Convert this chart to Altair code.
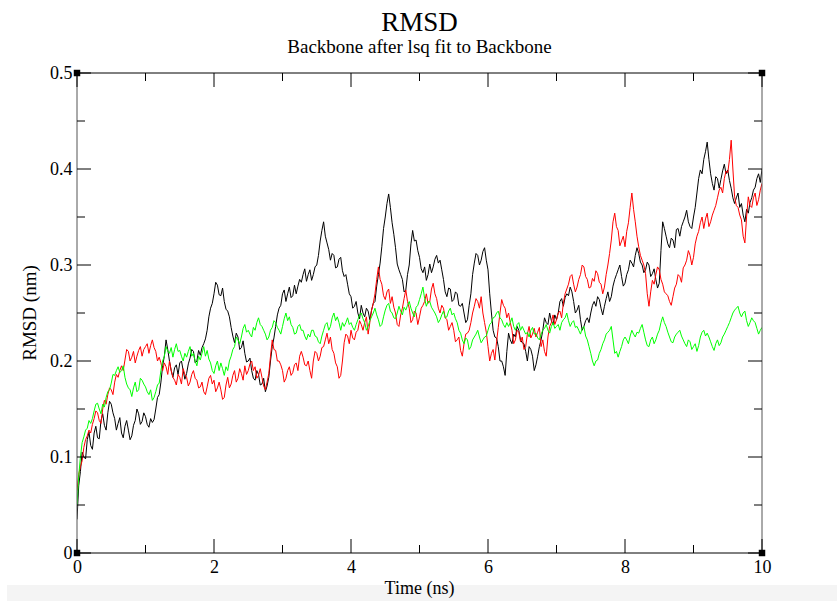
import altair as alt
import pandas as pd

# ---- data ----
# samples at every 0.05 ns, plus the in-between samples (0.025, 0.075, ...) read separately
rmsd_black = [
    0.035, 0.085, 0.10, 0.118, 0.112, 0.125, 0.12, 0.138, 0.133, 0.146, 0.155, 0.14, 0.135, 0.125, 0.132, 0.128, 0.122, 0.138, 0.145, 0.137,
    0.142, 0.131, 0.136, 0.15, 0.165, 0.195, 0.222, 0.2, 0.183, 0.196, 0.198, 0.19, 0.187, 0.203, 0.21, 0.2, 0.206, 0.218, 0.232, 0.255,
    0.27, 0.279, 0.268, 0.262, 0.252, 0.235, 0.219, 0.225, 0.214, 0.208, 0.2, 0.19, 0.18, 0.186, 0.176, 0.168, 0.183, 0.215, 0.236, 0.255,
    0.27, 0.262, 0.277, 0.268, 0.27, 0.285, 0.29, 0.283, 0.295, 0.29, 0.3, 0.325, 0.345, 0.323, 0.305, 0.31, 0.298, 0.308, 0.288, 0.28,
    0.267, 0.257, 0.25, 0.258, 0.246, 0.252, 0.253, 0.262, 0.29, 0.319, 0.35, 0.374, 0.344, 0.318, 0.295, 0.285, 0.274, 0.3, 0.336, 0.326,
    0.308, 0.292, 0.284, 0.301, 0.298, 0.31, 0.305, 0.285, 0.267, 0.275, 0.264, 0.27, 0.257, 0.25, 0.243, 0.27, 0.302, 0.31, 0.305, 0.318,
    0.295, 0.25, 0.225, 0.215, 0.2, 0.185, 0.229, 0.218, 0.225, 0.232, 0.219, 0.21, 0.215, 0.205, 0.196, 0.215, 0.232, 0.24, 0.25, 0.238,
    0.243, 0.262, 0.257, 0.27, 0.277, 0.262, 0.253, 0.243, 0.236, 0.245, 0.25, 0.262, 0.267, 0.255, 0.257, 0.272, 0.267, 0.285, 0.295, 0.288,
    0.281, 0.295, 0.302, 0.31, 0.312, 0.3, 0.295, 0.3, 0.291, 0.285, 0.281, 0.345, 0.33, 0.318, 0.326, 0.337, 0.33, 0.345, 0.357, 0.34,
    0.35, 0.375, 0.399, 0.41, 0.428, 0.395, 0.378, 0.39, 0.389, 0.405, 0.399, 0.38, 0.364, 0.375, 0.364, 0.345, 0.354, 0.37, 0.381, 0.395,
    0.4,
]
rmsd_black_mid = [
    0.07, 0.105, 0.098, 0.126, 0.108, 0.132, 0.119, 0.145, 0.128, 0.158, 0.146, 0.128, 0.141, 0.12, 0.138, 0.118, 0.133, 0.15, 0.134, 0.146,
    0.134, 0.14, 0.139, 0.162, 0.178, 0.205, 0.212, 0.19, 0.193, 0.186, 0.2, 0.181, 0.197, 0.212, 0.198, 0.211, 0.214, 0.223, 0.246, 0.26,
    0.282, 0.269, 0.276, 0.254, 0.246, 0.226, 0.229, 0.212, 0.221, 0.199, 0.203, 0.182, 0.19, 0.175, 0.182, 0.174, 0.2, 0.224, 0.248, 0.258,
    0.274, 0.27, 0.266, 0.279, 0.278, 0.282, 0.296, 0.29, 0.284, 0.298, 0.31, 0.336, 0.33, 0.316, 0.312, 0.297, 0.306, 0.294, 0.29, 0.27,
    0.255, 0.262, 0.244, 0.25, 0.255, 0.243, 0.26, 0.278, 0.302, 0.338, 0.364, 0.36, 0.332, 0.301, 0.29, 0.272, 0.29, 0.322, 0.325, 0.315,
    0.296, 0.298, 0.29, 0.292, 0.306, 0.302, 0.295, 0.272, 0.276, 0.262, 0.272, 0.258, 0.26, 0.24, 0.258, 0.29, 0.312, 0.3, 0.314, 0.305,
    0.27, 0.232, 0.224, 0.2, 0.194, 0.21, 0.222, 0.228, 0.236, 0.222, 0.218, 0.2, 0.212, 0.19, 0.205, 0.222, 0.245, 0.238, 0.242, 0.248,
    0.25, 0.265, 0.266, 0.268, 0.272, 0.25, 0.258, 0.232, 0.242, 0.24, 0.258, 0.257, 0.264, 0.248, 0.265, 0.262, 0.278, 0.29, 0.3, 0.278,
    0.29, 0.305, 0.298, 0.318, 0.303, 0.292, 0.303, 0.288, 0.296, 0.276, 0.315, 0.338, 0.322, 0.328, 0.318, 0.338, 0.34, 0.35, 0.345, 0.338,
    0.36, 0.39, 0.395, 0.418, 0.41, 0.385, 0.392, 0.38, 0.398, 0.395, 0.388, 0.37, 0.37, 0.36, 0.352, 0.358, 0.365, 0.378, 0.39, 0.386,
]

rmsd_red = [
    0.065, 0.09, 0.11, 0.122, 0.125, 0.14, 0.146, 0.135, 0.159, 0.165, 0.17, 0.178, 0.183, 0.195, 0.201, 0.21, 0.204, 0.198, 0.211, 0.205,
    0.215, 0.208, 0.222, 0.21, 0.204, 0.19, 0.194, 0.2, 0.183, 0.175, 0.183, 0.192, 0.183, 0.178, 0.19, 0.18, 0.173, 0.168, 0.173, 0.185,
    0.18, 0.172, 0.17, 0.162, 0.183, 0.176, 0.19, 0.182, 0.187, 0.195, 0.19, 0.2, 0.194, 0.185, 0.183, 0.17, 0.187, 0.222, 0.211, 0.2,
    0.19, 0.182, 0.194, 0.188, 0.198, 0.205, 0.204, 0.195, 0.19, 0.2, 0.208, 0.205, 0.215, 0.229, 0.225, 0.208, 0.194, 0.185, 0.219, 0.226,
    0.232, 0.222, 0.232, 0.238, 0.24, 0.228, 0.253, 0.27, 0.298, 0.28, 0.264, 0.275, 0.267, 0.25, 0.236, 0.255, 0.274, 0.255, 0.243, 0.25,
    0.246, 0.258, 0.27, 0.262, 0.281, 0.265, 0.25, 0.255, 0.243, 0.236, 0.232, 0.222, 0.211, 0.218, 0.229, 0.24, 0.257, 0.262, 0.267, 0.24,
    0.215, 0.208, 0.201, 0.235, 0.264, 0.255, 0.25, 0.232, 0.222, 0.23, 0.225, 0.215, 0.236, 0.228, 0.225, 0.235, 0.222, 0.205, 0.236, 0.248,
    0.243, 0.252, 0.26, 0.275, 0.288, 0.28, 0.277, 0.29, 0.298, 0.285, 0.277, 0.283, 0.291, 0.28, 0.277, 0.3, 0.326, 0.354, 0.336, 0.325,
    0.319, 0.344, 0.375, 0.345, 0.319, 0.305, 0.291, 0.257, 0.284, 0.29, 0.295, 0.28, 0.27, 0.262, 0.267, 0.28, 0.288, 0.297, 0.305, 0.31,
    0.308, 0.33, 0.344, 0.338, 0.354, 0.345, 0.357, 0.37, 0.381, 0.39, 0.396, 0.43, 0.371, 0.36, 0.347, 0.323, 0.371, 0.36, 0.375, 0.368,
    0.385,
]
rmsd_red_mid = [
    0.082, 0.096, 0.118, 0.128, 0.134, 0.148, 0.138, 0.15, 0.155, 0.172, 0.165, 0.186, 0.19, 0.19, 0.212, 0.2, 0.21, 0.205, 0.215, 0.212,
    0.218, 0.216, 0.214, 0.2, 0.198, 0.198, 0.186, 0.19, 0.18, 0.186, 0.176, 0.186, 0.174, 0.186, 0.182, 0.172, 0.178, 0.165, 0.182, 0.176,
    0.168, 0.178, 0.16, 0.175, 0.172, 0.185, 0.178, 0.192, 0.18, 0.186, 0.197, 0.19, 0.182, 0.192, 0.174, 0.178, 0.205, 0.212, 0.2, 0.196,
    0.178, 0.19, 0.185, 0.196, 0.19, 0.21, 0.196, 0.2, 0.182, 0.21, 0.2, 0.214, 0.222, 0.218, 0.212, 0.198, 0.182, 0.2, 0.228, 0.218,
    0.224, 0.23, 0.242, 0.232, 0.246, 0.24, 0.26, 0.285, 0.285, 0.268, 0.272, 0.26, 0.256, 0.238, 0.248, 0.265, 0.262, 0.24, 0.252, 0.238,
    0.255, 0.262, 0.26, 0.275, 0.27, 0.255, 0.258, 0.245, 0.232, 0.24, 0.22, 0.225, 0.205, 0.228, 0.232, 0.25, 0.265, 0.255, 0.25, 0.23,
    0.2, 0.212, 0.22, 0.25, 0.258, 0.245, 0.24, 0.218, 0.232, 0.22, 0.212, 0.228, 0.224, 0.234, 0.23, 0.215, 0.21, 0.225, 0.24, 0.238,
    0.25, 0.245, 0.27, 0.28, 0.29, 0.272, 0.285, 0.3, 0.288, 0.276, 0.286, 0.294, 0.282, 0.27, 0.29, 0.312, 0.345, 0.34, 0.32, 0.33,
    0.335, 0.36, 0.358, 0.33, 0.31, 0.3, 0.27, 0.272, 0.28, 0.298, 0.285, 0.272, 0.268, 0.258, 0.276, 0.29, 0.282, 0.3, 0.315, 0.3,
    0.322, 0.335, 0.35, 0.348, 0.34, 0.352, 0.362, 0.378, 0.375, 0.398, 0.41, 0.4, 0.362, 0.352, 0.33, 0.35, 0.362, 0.37, 0.362, 0.378,
]

rmsd_green = [
    0.05, 0.1, 0.121, 0.13, 0.135, 0.148, 0.156, 0.145, 0.152, 0.168, 0.177, 0.185, 0.194, 0.19, 0.183, 0.172, 0.163, 0.178, 0.17, 0.18,
    0.173, 0.165, 0.159, 0.168, 0.177, 0.2, 0.215, 0.208, 0.204, 0.218, 0.211, 0.2, 0.204, 0.215, 0.208, 0.195, 0.201, 0.215, 0.211, 0.198,
    0.187, 0.2, 0.198, 0.185, 0.19, 0.205, 0.215, 0.222, 0.225, 0.238, 0.232, 0.225, 0.232, 0.245, 0.236, 0.228, 0.225, 0.235, 0.24, 0.232,
    0.236, 0.25, 0.246, 0.235, 0.229, 0.238, 0.232, 0.222, 0.225, 0.232, 0.225, 0.218, 0.232, 0.24, 0.236, 0.25, 0.246, 0.232, 0.236, 0.245,
    0.24, 0.232, 0.243, 0.25, 0.24, 0.236, 0.246, 0.255, 0.243, 0.238, 0.253, 0.26, 0.25, 0.244, 0.257, 0.248, 0.253, 0.262, 0.25, 0.256,
    0.264, 0.277, 0.257, 0.262, 0.253, 0.246, 0.243, 0.252, 0.246, 0.255, 0.25, 0.24, 0.229, 0.218, 0.222, 0.215, 0.225, 0.232, 0.219, 0.225,
    0.232, 0.24, 0.246, 0.252, 0.243, 0.235, 0.236, 0.245, 0.232, 0.24, 0.236, 0.228, 0.225, 0.235, 0.229, 0.222, 0.232, 0.238, 0.229, 0.24,
    0.236, 0.232, 0.243, 0.25, 0.236, 0.242, 0.236, 0.228, 0.236, 0.222, 0.208, 0.195, 0.201, 0.212, 0.222, 0.23, 0.236, 0.208, 0.204, 0.215,
    0.225, 0.218, 0.232, 0.225, 0.229, 0.238, 0.222, 0.215, 0.225, 0.222, 0.232, 0.246, 0.236, 0.225, 0.219, 0.228, 0.232, 0.222, 0.215, 0.22,
    0.215, 0.21, 0.225, 0.232, 0.229, 0.22, 0.211, 0.222, 0.219, 0.228, 0.236, 0.245, 0.253, 0.257, 0.246, 0.252, 0.236, 0.245, 0.24, 0.228,
    0.235,
]
rmsd_green_mid = [
    0.08, 0.115, 0.128, 0.138, 0.14, 0.155, 0.15, 0.155, 0.162, 0.17, 0.186, 0.19, 0.188, 0.195, 0.176, 0.17, 0.172, 0.168, 0.182, 0.176,
    0.168, 0.17, 0.162, 0.175, 0.19, 0.205, 0.21, 0.214, 0.212, 0.21, 0.205, 0.208, 0.21, 0.205, 0.2, 0.205, 0.208, 0.205, 0.202, 0.19,
    0.195, 0.19, 0.192, 0.194, 0.2, 0.212, 0.225, 0.218, 0.234, 0.23, 0.228, 0.235, 0.24, 0.238, 0.232, 0.222, 0.232, 0.242, 0.235, 0.228,
    0.244, 0.242, 0.238, 0.228, 0.236, 0.232, 0.226, 0.228, 0.232, 0.226, 0.22, 0.226, 0.238, 0.232, 0.245, 0.242, 0.24, 0.24, 0.24, 0.238,
    0.235, 0.238, 0.248, 0.244, 0.232, 0.242, 0.25, 0.248, 0.236, 0.246, 0.258, 0.252, 0.245, 0.25, 0.252, 0.256, 0.258, 0.255, 0.246, 0.258,
    0.27, 0.265, 0.262, 0.256, 0.25, 0.24, 0.248, 0.245, 0.252, 0.248, 0.244, 0.232, 0.222, 0.224, 0.212, 0.222, 0.228, 0.225, 0.222, 0.226,
    0.238, 0.245, 0.25, 0.245, 0.238, 0.24, 0.24, 0.236, 0.238, 0.232, 0.232, 0.23, 0.232, 0.228, 0.224, 0.228, 0.234, 0.232, 0.236, 0.234,
    0.238, 0.24, 0.245, 0.242, 0.24, 0.235, 0.232, 0.234, 0.226, 0.215, 0.2, 0.2, 0.208, 0.218, 0.228, 0.232, 0.222, 0.21, 0.21, 0.222,
    0.222, 0.226, 0.228, 0.23, 0.234, 0.23, 0.216, 0.222, 0.218, 0.228, 0.24, 0.24, 0.23, 0.22, 0.225, 0.23, 0.226, 0.218, 0.222, 0.212,
    0.218, 0.216, 0.23, 0.226, 0.225, 0.215, 0.218, 0.216, 0.225, 0.232, 0.24, 0.25, 0.255, 0.25, 0.25, 0.242, 0.24, 0.242, 0.234, 0.232,
]

x_major = [0, 2, 4, 6, 8, 10]
x_minor = [1, 3, 5, 7, 9]
y_major = [0, 0.1, 0.2, 0.3, 0.4, 0.5]
y_minor = [0.05, 0.15, 0.25, 0.35, 0.45]
frame_x = [0, 10]
frame_y = [0, 0.5]
corner_x = [0, 0, 10, 10]
corner_y = [0, 0.5, 0, 0.5]

title_text = "RMSD"
subtitle_text = "Backbone after lsq fit to Backbone"
x_title = "Time (ns)"
y_title = "RMSD (nm)"

STEP = 0.025  # time between samples, ns


def merge(main, mid):
    assert len(main) == len(mid) + 1
    out = []
    for a, b in zip(main[:-1], mid):
        out += [a, b]
    out.append(main[-1])
    return out


# ---- layout / style ----
W, H = 685, 480
FONT = "Liberation Serif"
xs = alt.Scale(domain=[0, 10], nice=False, zero=False)
ys = alt.Scale(domain=[0, 0.5], nice=False, zero=False)
XA = alt.Axis(values=x_major, ticks=False, tickSize=0, domain=False, grid=False,
              labelFont=FONT, labelFontSize=18, labelColor="black",
              labelPadding=5, labelFlush=False, title=None, format="d")
YA = alt.Axis(values=y_major, ticks=False, tickSize=0, domain=False, grid=False,
              labelFont=FONT, labelFontSize=18, labelColor="black",
              labelPadding=5, labelFlush=False, title=None, format="~g")


def X(field):
    return alt.X(field, scale=xs, axis=XA)


def Y(field):
    return alt.Y(field, scale=ys, axis=YA)


def line_layer(main, mid, color):
    values = merge(main, mid)
    df = pd.DataFrame({"t": [round(i * STEP, 3) for i in range(len(values))], "v": values})
    return alt.Chart(df).mark_line(color=color, strokeWidth=1, clip=True).encode(
        x=X("t:Q"), y=Y("v:Q"))


def xticks(vals, length):
    df = pd.DataFrame({"t": vals})
    bottom = alt.Chart(df).mark_rule(color="black", strokeWidth=1).encode(
        x=X("t:Q"), y=alt.value(H), y2=alt.value(H - length))
    top = alt.Chart(df).mark_rule(color="black", strokeWidth=1).encode(
        x=X("t:Q"), y=alt.value(0), y2=alt.value(length))
    return [bottom, top]


def yticks(vals, length):
    df = pd.DataFrame({"v": vals})
    left = alt.Chart(df).mark_rule(color="black", strokeWidth=1).encode(
        y=Y("v:Q"), x=alt.value(0), x2=alt.value(length))
    right = alt.Chart(df).mark_rule(color="black", strokeWidth=1).encode(
        y=Y("v:Q"), x=alt.value(W), x2=alt.value(W - length))
    return [left, right]


band = alt.Chart(pd.DataFrame({"a": [0]})).mark_rect(color="#f4f4f4").encode(
    x=alt.value(-70), x2=alt.value(760), y=alt.value(512), y2=alt.value(528))

frame_h = alt.Chart(pd.DataFrame({"v": frame_y})).mark_rule(color="black", strokeWidth=1).encode(
    y=Y("v:Q"), x=alt.value(0), x2=alt.value(W))
frame_v = alt.Chart(pd.DataFrame({"t": frame_x})).mark_rule(color="#555555", strokeWidth=1).encode(
    x=X("t:Q"), y=alt.value(0), y2=alt.value(H))

corners = alt.Chart(pd.DataFrame({"t": corner_x, "v": corner_y})).mark_square(
    color="black", size=42, opacity=1, filled=True).encode(x=X("t:Q"), y=Y("v:Q"))


def text_layer(txt, x, y, size, angle=0):
    return alt.Chart(pd.DataFrame({"s": [txt]})).mark_text(
        font=FONT, fontSize=size, color="black", align="center", baseline="alphabetic",
        angle=angle).encode(text="s:N", x=alt.value(x), y=alt.value(y))


layers = [band, line_layer(rmsd_black, rmsd_black_mid, "#000000"),
          line_layer(rmsd_red, rmsd_red_mid, "#ff0000"),
          line_layer(rmsd_green, rmsd_green_mid, "#00ff00"),
          frame_h, frame_v]
layers += xticks(x_major, 14) + xticks(x_minor, 8) + yticks(y_major, 14) + yticks(y_minor, 8)
layers += [corners,
           text_layer(title_text, W / 2, -42, 27),
           text_layer(subtitle_text, W / 2, -20, 19),
           text_layer(x_title, W / 2, H + 41, 18),
           text_layer(y_title, -41, H / 2, 19, angle=270)]

chart = alt.layer(*layers).properties(
    width=W, height=H,
    autosize=alt.AutoSizeParams(type="none"),
    padding={"left": 77, "top": 73, "right": 75, "bottom": 48},
    background="white",
).configure_view(stroke=None)

chart.save("out.html", embed_options={"renderer": "svg", "actions": False})
